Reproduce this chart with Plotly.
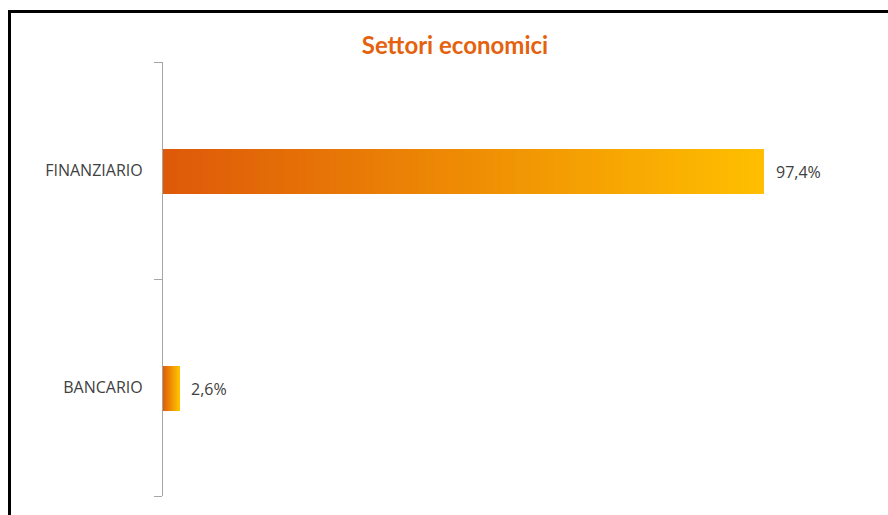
import plotly.graph_objects as go

# Data
categories = ["BANCARIO", "FINANZIARIO"]
values = [2.6, 97.4]
title_text = "Settori economici"

# Gradient colours (left -> right along each bar)
grad_start = (222, 89, 9)
grad_end = (255, 192, 0)
n_steps = 80

W, H = 888, 515
L, R, T, B = 163, 108, 62, 19
plot_w = W - L - R
plot_h = H - T - B

LABEL_FONT = "Open Sans, Lato, sans-serif"

# bar thickness of 45 px, nudged 1 px below the category centre
cat_px = plot_h / len(categories)
bar_w = 45 / cat_px
bar_offset = -bar_w / 2 - 1 / cat_px

fig = go.Figure()

# Each bar is painted as short slices of a colour ramp; every slice overlaps
# the next one a little so no seams show between them.
for i in range(n_steps):
    f = i / n_steps
    r = round(grad_start[0] + (grad_end[0] - grad_start[0]) * f)
    g = round(grad_start[1] + (grad_end[1] - grad_start[1]) * f)
    b = round(grad_start[2] + (grad_end[2] - grad_start[2]) * f)
    fig.add_trace(go.Bar(
        y=categories,
        x=[min(v / n_steps * 1.6, v * (1 - f)) for v in values],
        base=[v * f for v in values],
        orientation="h",
        width=bar_w,
        offset=bar_offset,
        marker=dict(color=f"rgb({r},{g},{b})", line=dict(width=0)),
        hoverinfo="skip",
        showlegend=False,
    ))

# Value labels after each bar end
for cat, v in zip(categories, values):
    fig.add_annotation(
        x=v, y=cat, xref="x", yref="y",
        text=f"{v:.1f}%".replace(".", ","),
        showarrow=False, xanchor="left", yanchor="middle", xshift=10, yshift=-1,
        font=dict(family=LABEL_FONT, size=16, color="#404040"),
    )

# Frame lines: left and top
px_to_paper_x = lambda px: (px - L) / plot_w
px_to_paper_y = lambda py: (H - B - py) / plot_h
fig.add_shape(type="line", xref="paper", yref="paper",
              x0=px_to_paper_x(9.5), x1=px_to_paper_x(9.5),
              y0=px_to_paper_y(10), y1=px_to_paper_y(520),
              line=dict(color="black", width=3))
fig.add_shape(type="line", xref="paper", yref="paper",
              x0=px_to_paper_x(8), x1=px_to_paper_x(895),
              y0=px_to_paper_y(11.5), y1=px_to_paper_y(11.5),
              line=dict(color="black", width=3))

fig.update_layout(
    width=W, height=H,
    margin=dict(l=L, r=R, t=T, b=B),
    paper_bgcolor="white", plot_bgcolor="white",
    barmode="overlay",
    title=dict(text=f"<b>{title_text}</b>", x=455 / W, xanchor="center",
               y=1 - 46 / H, yanchor="middle",
               font=dict(family="Lato, Open Sans, sans-serif", size=24, color="#E4620E")),
    xaxis=dict(range=[0, 100], visible=False, fixedrange=True),
    yaxis=dict(
        type="category", categoryorder="array", categoryarray=categories,
        range=[-0.5, 1.5],
        showline=True, linecolor="#A6A6A6", linewidth=1.2,
        ticks="outside", tickson="boundaries", ticklen=8, tickcolor="#A6A6A6",
        tickwidth=1.2,
        showgrid=False, zeroline=False,
        tickfont=dict(family=LABEL_FONT, size=16, color="#404040"),
        ticklabelstandoff=16,
    ),
)

fig.write_html("out.html")
